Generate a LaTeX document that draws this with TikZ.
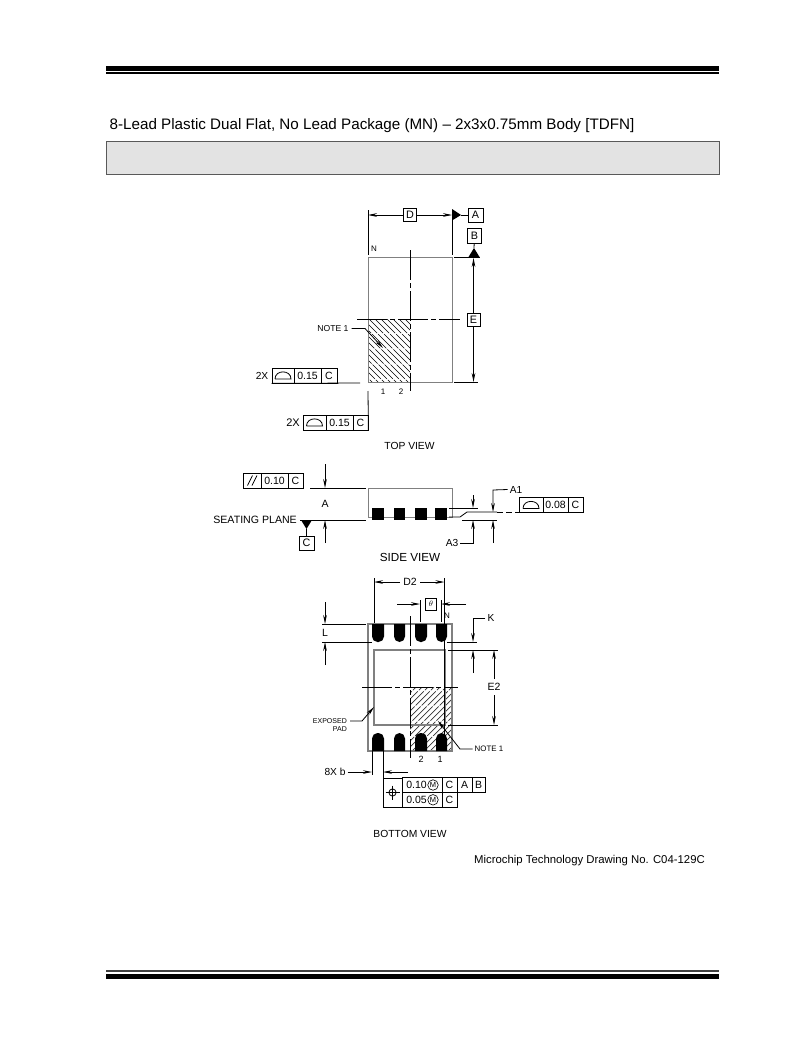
\documentclass[tikz,border=0pt]{standalone}
\usepackage{fontspec}
\setmainfont{Liberation Sans}
\usetikzlibrary{arrows.meta}

\tikzstyle{label} = [inner sep=0pt, font=\fontsize{10.2}{12}\selectfont]
\tikzstyle{pinLabel} = [inner sep=0pt, font=\fontsize{8}{9}\selectfont]
\tikzstyle{tinyLabel} = [inner sep=0pt, font=\fontsize{7}{8}\selectfont]
\tikzstyle{viewLabel} = [inner sep=0pt, font=\fontsize{10.3}{12}\selectfont]
\tikzstyle{datumBox} = [draw, line width=0.8pt, inner sep=0pt, minimum width=14pt, minimum height=14pt, font=\fontsize{10.8}{12}\selectfont]
\tikzstyle{frameCell} = [draw, line width=0.8pt, inner sep=0pt, minimum height=15pt, font=\fontsize{10.5}{12}\selectfont]
\tikzstyle{mmcMark} = [circle, draw, line width=0.6pt, inner sep=0pt, minimum size=10.5pt, font=\fontsize{7.5}{8}\selectfont]
\tikzstyle{dimLine} = [line width=0.8pt]
\tikzstyle{bodyLine} = [draw=black!50, line width=1pt]
\tikzstyle{centerLine} = [line width=0.8pt, dash pattern=on 30pt off 3pt on 5pt off 3pt]
\tikzstyle{hatchLine} = [line width=0.7pt, dash pattern=on 20pt off 1.5pt]
\newcommand{\segmentMark}[1]{\draw[line width=0.8pt, shift={(#1)}] (-8,3.5) -- (8,3.5) .. controls (8,-6) and (-8,-6) .. (-8,3.5);}

\begin{document}
\begin{tikzpicture}[x=1pt, y=-1pt, >={Stealth[length=9pt, width=3.6pt]}]
	\useasboundingbox (0,0) rectangle (802,1038);

	% page header and footer
	\fill (106,66) rectangle (719,70.6);
	\fill (106,72.4) rectangle (719,73.9);
	\fill[black!75] (106,970) rectangle (719,972);
	\fill (106,974.3) rectangle (719,978.7);
	\path (109.5,125.5) node (title) [anchor=west, inner sep=0pt, font=\fontsize{15.2}{17}\selectfont] {8-Lead Plastic Dual Flat, No Lead Package (MN) -- 2x3x0.75mm Body [TDFN]};
	\path[fill=black!11, draw=black!65, line width=0.9pt] (106.5,141) rectangle (719,174.5);
	\path (705,861) node (drawingNo) [anchor=east, inner sep=0pt, font=\fontsize{11.35}{13}\selectfont] {Microchip Technology Drawing No. C04-129C};

	% top view
	\coordinate (topNW) at (368,257);
	\coordinate (topSE) at (452,382);
	\begin{scope}
		\clip (368,319) rectangle (410,382);
		\foreach \a in {303,309,...,410}
			\draw[hatchLine] (\a,319) -- (\a+63,382);
	\end{scope}
	\path[bodyLine] (topNW) rectangle (topSE);
	\draw[centerLine] (410,250) -- (410,391);
	\draw[centerLine] (357,319) -- (460,319);

	\path (410,215) node (dimD) [datumBox, minimum width=13pt, minimum height=13pt] {D};
	\draw[dimLine] (368,210) -- (368,255);
	\draw[dimLine] (452,210) -- (452,255);
	\draw[dimLine, ->] (dimD) -- (368,215);
	\draw[dimLine, ->] (dimD) -- (452,215);

	\path (475.5,215) node (datumA) [datumBox, minimum width=15pt] {A};
	\fill (452,209) -- (461,215) -- (452,220.5) -- cycle;
	\draw[dimLine] (461,215) -- (datumA);
	\path (474.5,236) node (datumB) [datumBox, minimum height=15pt] {B};
	\fill (474,248) -- (479.5,257) -- (468.5,257) -- cycle;
	\draw[dimLine] (datumB) -- (474,248);

	\path (473.5,319.5) node (dimE) [datumBox, minimum width=13pt, minimum height=13pt] {E};
	\draw[dimLine] (454,257) -- (480,257);
	\draw[dimLine] (454,382) -- (478,382);
	\draw[dimLine, ->] (dimE) -- (473.5,258);
	\draw[dimLine, ->] (dimE) -- (473.5,382);

	\path (374,249) node (pinN) [pinLabel] {N};
	\path (383,392) node (pinOne) [pinLabel] {1};
	\path (401,392) node (pinTwo) [pinLabel] {2};
	\path (333,328.5) node (topNote) [inner sep=0pt, font=\fontsize{8.6}{10}\selectfont] {NOTE 1};
	\draw[dimLine, ->] (topNote.east) ++(3,0) -- (365,328.5) -- (383,348);

	\path (262,375.5) node (twoXa) [label] {2X};
	\path (283,375.5) node (segA) [frameCell, minimum width=22pt] {};
	\path (307.5,375.5) node (valA) [frameCell, minimum width=27pt] {0.15};
	\path (329,375.5) node (refA) [frameCell, minimum width=16pt] {C};
	\segmentMark{segA}
	\draw[dimLine] (segA.south west) -- (360,383);

	\path (293,422.5) node (twoXb) [label, font=\fontsize{11}{13}\selectfont] {2X};
	\path (314.5,422.5) node (segB) [frameCell, minimum width=23pt] {};
	\path (339.5,422.5) node (valB) [frameCell, minimum width=27pt] {0.15};
	\path (360.5,422.5) node (refB) [frameCell, minimum width=15pt] {C};
	\segmentMark{segB}
	\draw[dimLine] (refB.south east) -- (368,391);

	\path (409.5,446) node (topView) [viewLabel] {TOP VIEW};

	% side view
	\path[bodyLine] (368,488) rectangle (452,517);
	\foreach \x/\w in {372/12,394/11,415/12,435/12}
		\fill (\x,508) rectangle (\x+\w,520);
	\draw[dimLine] (310,488) -- (366,488);
	\draw[dimLine] (300,520) -- (366,520);

	\path (252,480.5) node (flatSym) [frameCell, minimum width=18pt] {};
	\draw[line width=0.8pt] (247.5,485.5) -- (252.5,475.5) (252,485.5) -- (257,475.5);
	\path (274.5,480.5) node (flatVal) [frameCell, minimum width=27pt] {0.10};
	\path (295.5,480.5) node (flatRef) [frameCell, minimum width=15pt] {C};
	\path (325,504) node (dimA) [label, font=\fontsize{10.5}{12}\selectfont] {A};
	\draw[dimLine, ->] (325,464) -- (325,488);
	\draw[dimLine, ->] (325,543) -- (325,520);

	\path (297,520) node (seating) [anchor=east, inner sep=0pt, font=\fontsize{10.6}{12}\selectfont] {SEATING PLANE};
	\path (306.5,543) node (datumC) [datumBox, minimum width=15pt] {C};
	\fill (301,520) -- (312,520) -- (306.5,529) -- cycle;
	\draw[dimLine] (306.5,529) -- (datumC);

	\draw[dimLine] (449,508) -- (478,508);
	\draw[dimLine, ->] (473,495) -- (473,508);
	\draw[dimLine] (449,517) -- (460,517) -- (467,512) -- (497,512);
	\draw[dimLine] (462,520) -- (497,520);
	\draw[dimLine, dash pattern=on 6pt off 3pt] (497,512) -- (519,512);

	\path (516,489.5) node (dimAone) [label] {A1};
	\draw[dimLine, ->] (dimAone.west) ++(-2,0) -- (493,490) -- (493,512);
	\draw[dimLine, ->] (493,543) -- (493,520);
	\path (452,543) node (dimAthree) [label] {A3};
	\draw[dimLine, ->] (dimAthree.east) ++(2,0) -- (473,543) -- (473,520);

	\path (531,505) node (segC) [frameCell, minimum width=24pt] {};
	\path (555.5,505) node (valC) [frameCell, minimum width=25pt] {0.08};
	\path (575.5,505) node (refC) [frameCell, minimum width=15pt] {C};
	\segmentMark{segC}

	\path (410,557) node (sideView) [viewLabel, font=\fontsize{11.7}{14}\selectfont] {SIDE VIEW};

	% bottom view
	\begin{scope}
		\clip (410,687) rectangle (452,751);
		\foreach \a in {346,352,...,452}
			\draw[hatchLine, draw=black!80] (\a,751) -- (\a+64,687);
	\end{scope}
	\path[bodyLine, line width=1.2pt] (368,624) rectangle (452,751);
	\path[draw=black!50, line width=1.3pt] (374,650) rectangle (445,725);
	\draw[dimLine] (444.5,616) -- (444.5,749);
	\foreach \x/\w in {372/12,394/11,415/12,436/11} {
		\fill (\x,624) [rounded corners=5.5pt] -- (\x,642) -- (\x+\w,642) [sharp corners] -- (\x+\w,624) -- cycle;
		\fill (\x,751) [rounded corners=5.5pt] -- (\x,733) -- (\x+\w,733) [sharp corners] -- (\x+\w,751) -- cycle;
	}
	\draw[centerLine] (410,616) -- (410,758);
	\draw[centerLine] (362,687) -- (458,687);

	\path (410,582) node (dimDtwo) [label, font=\fontsize{10.5}{12}\selectfont] {D2};
	\draw[dimLine] (374,578) -- (374,623);
	\draw[dimLine] (444.5,578) -- (444.5,616);
	\draw[dimLine, ->] (dimDtwo) ++(-10,0) -- (374,582);
	\draw[dimLine, ->] (dimDtwo) ++(10,0) -- (444.5,582);

	\path (431,604) node (thetaBox) [datumBox, minimum width=11pt, minimum height=12pt, font=\fontsize{8}{9}\selectfont] {$\theta$};
	\draw[dimLine] (420,600) -- (420,622);
	\draw[dimLine] (441,600) -- (441,622);
	\draw[dimLine, ->] (397,604) -- (420,604);
	\draw[dimLine, ->] (466,604) -- (441,604);
	\path (447,616) node (pinNb) [pinLabel] {N};

	\path (325,633) node (dimL) [label, font=\fontsize{10.5}{12}\selectfont] {L};
	\draw[dimLine] (322,624) -- (366,624);
	\draw[dimLine] (322,642) -- (372,642);
	\draw[dimLine, ->] (325,602) -- (325,624);
	\draw[dimLine, ->] (325,665) -- (325,642);

	\path (491,618) node (dimK) [label] {K};
	\draw[dimLine] (447,642) -- (477,642);
	\draw[dimLine] (448,650) -- (498,650);
	\draw[dimLine, ->] (dimK.west) ++(-2,0) -- (473,618) -- (473,642);
	\draw[dimLine, ->] (473,673) -- (473,650);

	\path (494,687) node (dimEtwo) [label, font=\fontsize{10.5}{12}\selectfont] {E2};
	\draw[dimLine] (448,725) -- (498,725);
	\draw[dimLine, ->] (dimEtwo) ++(0,-8) -- (494,650);
	\draw[dimLine, ->] (dimEtwo) ++(0,8) -- (494,725);

	\path (347,721) node (padNote) [tinyLabel, anchor=east] {EXPOSED};
	\path (347,729) node (padNoteb) [tinyLabel, anchor=east] {PAD};
	\draw[dimLine, ->] (padNote.east) ++(3,0) -- (362,721) -- (374,707);
	\path (489,749) node (botNote) [inner sep=0pt, font=\fontsize{7.9}{9}\selectfont] {NOTE 1};
	\draw[dimLine, ->] (botNote.west) ++(-2,0) -- (460,749) -- (438,721);
	\path (421,759) node (pinTwob) [pinLabel, font=\fontsize{9}{10}\selectfont] {2};
	\path (440,759) node (pinOneb) [pinLabel, font=\fontsize{9}{10}\selectfont] {1};

	\path (335,772) node (dimB) [label] {8X b};
	\draw[dimLine] (372,751) -- (372,775);
	\draw[dimLine] (383,751) -- (383,778);
	\draw[dimLine, ->] (dimB.east) ++(2,0) -- (372,772);
	\draw[dimLine, ->] (408,772) -- (383,772);

	% position tolerance frame
	\path (392.5,792.5) node (posSym) [frameCell, minimum width=19pt, minimum height=29pt] {};
	\draw[line width=0.8pt] (posSym) circle (3.6pt);
	\draw[line width=0.8pt] (385.5,792.5) -- (399.5,792.5) (392.5,785.5) -- (392.5,799.5);
	\path (422,785) node (posVal) [frameCell, minimum width=40pt, minimum height=14.5pt] {\hspace{-11pt}0.10};
	\path (449.5,785) node (posRef) [frameCell, minimum width=15pt, minimum height=14.5pt] {C};
	\path (464.5,785) node (posRefA) [frameCell, minimum width=15pt, minimum height=14.5pt] {A};
	\path (478.5,785) node (posRefB) [frameCell, minimum width=13pt, minimum height=14.5pt] {B};
	\path (422,799.8) node (posValb) [frameCell, minimum width=40pt, minimum height=15pt] {\hspace{-11pt}0.05};
	\path (449.5,799.8) node (posRefb) [frameCell, minimum width=15pt, minimum height=15pt] {C};
	\path (433,785) node (mmcA) [mmcMark] {M};
	\path (433,799.8) node (mmcB) [mmcMark] {M};

	\path (410,834) node (bottomView) [viewLabel] {BOTTOM VIEW};
\end{tikzpicture}
\end{document}
